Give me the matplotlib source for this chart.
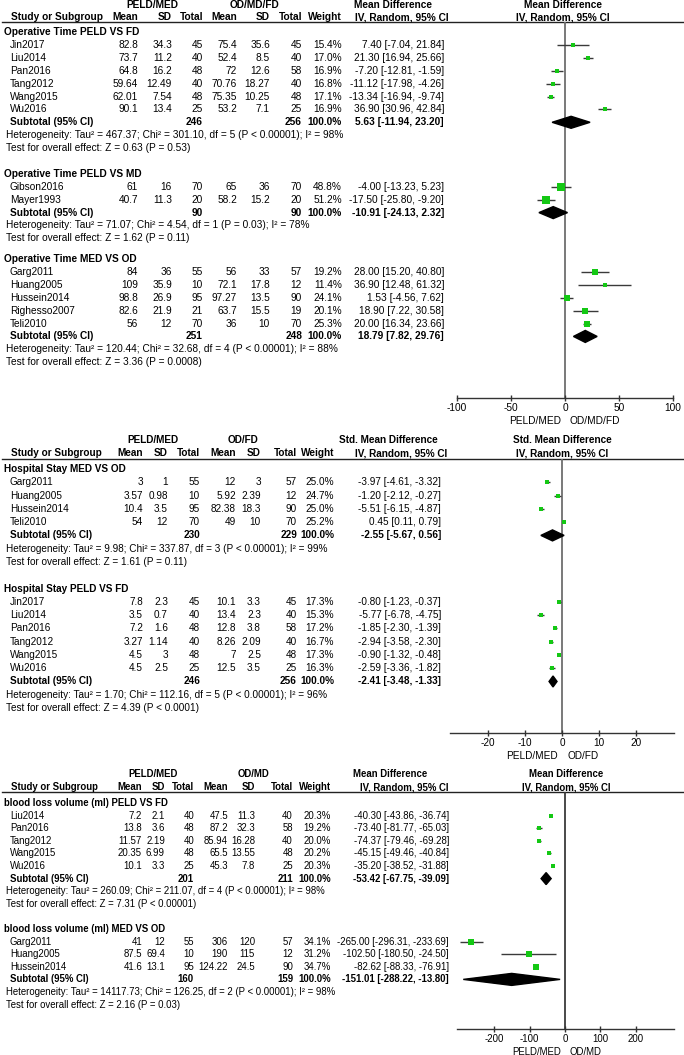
import matplotlib
matplotlib.use('Agg')
import matplotlib.pyplot as plt
from matplotlib.patches import Polygon

plt.rcParams['font.family'] = ['Liberation Sans', 'DejaVu Sans']

# ---------------- DATA ----------------
# Panel 1: Operative time (Mean Difference)
p1_sub_names = ['Operative Time PELD VS FD', 'Operative Time PELD VS MD', 'Operative Time MED VS OD']
p1_group = [0, 0, 0, 0, 0, 0, 1, 1, 2, 2, 2, 2, 2]
p1_study = ['Jin2017', 'Liu2014', 'Pan2016', 'Tang2012', 'Wang2015', 'Wu2016',
            'Gibson2016', 'Mayer1993',
            'Garg2011', 'Huang2005', 'Hussein2014', 'Righesso2007', 'Teli2010']
p1_mean1 = [82.8, 73.7, 64.8, 59.64, 62.01, 90.1, 61, 40.7, 84, 109, 98.8, 82.6, 56]
p1_sd1 = [34.3, 11.2, 16.2, 12.49, 7.54, 13.4, 16, 11.3, 36, 35.9, 26.9, 21.9, 12]
p1_n1 = [45, 40, 48, 40, 48, 25, 70, 20, 55, 10, 95, 21, 70]
p1_mean2 = [75.4, 52.4, 72, 70.76, 75.35, 53.2, 65, 58.2, 56, 72.1, 97.27, 63.7, 36]
p1_sd2 = [35.6, 8.5, 12.6, 18.27, 10.25, 7.1, 36, 15.2, 33, 17.8, 13.5, 15.5, 10]
p1_n2 = [45, 40, 58, 40, 48, 25, 70, 20, 57, 12, 90, 19, 70]
p1_weight = [15.4, 17.0, 16.9, 16.8, 17.1, 16.9, 48.8, 51.2, 19.2, 11.4, 24.1, 20.1, 25.3]
p1_est = [7.40, 21.30, -7.20, -11.12, -13.34, 36.90, -4.00, -17.50, 28.00, 36.90, 1.53, 18.90, 20.00]
p1_lo = [-7.04, 16.94, -12.81, -17.98, -16.94, 30.96, -13.23, -25.80, 15.20, 12.48, -4.56, 7.22, 16.34]
p1_hi = [21.84, 25.66, -1.59, -4.26, -9.74, 42.84, 5.23, -9.20, 40.80, 61.32, 7.62, 30.58, 23.66]
p1_sub_n1 = [246, 90, 251]
p1_sub_n2 = [256, 90, 248]
p1_sub_est = [5.63, -10.91, 18.79]
p1_sub_lo = [-11.94, -24.13, 7.82]
p1_sub_hi = [23.20, 2.32, 29.76]
p1_het = ['Tau\u00b2 = 467.37; Chi\u00b2 = 301.10, df = 5 (P < 0.00001); I\u00b2 = 98%',
          'Tau\u00b2 = 71.07; Chi\u00b2 = 4.54, df = 1 (P = 0.03); I\u00b2 = 78%',
          'Tau\u00b2 = 120.44; Chi\u00b2 = 32.68, df = 4 (P < 0.00001); I\u00b2 = 88%']
p1_test = ['Z = 0.63 (P = 0.53)', 'Z = 1.62 (P = 0.11)', 'Z = 3.36 (P = 0.0008)']
p1_ticks = [-100, -50, 0, 50, 100]

# Panel 2: Hospital stay (Std. Mean Difference)
p2_sub_names = ['Hospital Stay MED VS OD', 'Hospital Stay PELD VS FD']
p2_group = [0, 0, 0, 0, 1, 1, 1, 1, 1, 1]
p2_study = ['Garg2011', 'Huang2005', 'Hussein2014', 'Teli2010',
            'Jin2017', 'Liu2014', 'Pan2016', 'Tang2012', 'Wang2015', 'Wu2016']
p2_mean1 = [3, 3.57, 10.4, 54, 7.8, 3.5, 7.2, 3.27, 4.5, 4.5]
p2_sd1 = [1, 0.98, 3.5, 12, 2.3, 0.7, 1.6, 1.14, 3, 2.5]
p2_n1 = [55, 10, 95, 70, 45, 40, 48, 40, 48, 25]
p2_mean2 = [12, 5.92, 82.38, 49, 10.1, 13.4, 12.8, 8.26, 7, 12.5]
p2_sd2 = [3, 2.39, 18.3, 10, 3.3, 2.3, 3.8, 2.09, 2.5, 3.5]
p2_n2 = [57, 12, 90, 70, 45, 40, 58, 40, 48, 25]
p2_weight = [25.0, 24.7, 25.0, 25.2, 17.3, 15.3, 17.2, 16.7, 17.3, 16.3]
p2_est = [-3.97, -1.20, -5.51, 0.45, -0.80, -5.77, -1.85, -2.94, -0.90, -2.59]
p2_lo = [-4.61, -2.12, -6.15, 0.11, -1.23, -6.78, -2.30, -3.58, -1.32, -3.36]
p2_hi = [-3.32, -0.27, -4.87, 0.79, -0.37, -4.75, -1.39, -2.30, -0.48, -1.82]
p2_sub_n1 = [230, 246]
p2_sub_n2 = [229, 256]
p2_sub_est = [-2.55, -2.41]
p2_sub_lo = [-5.67, -3.48]
p2_sub_hi = [0.56, -1.33]
p2_het = ['Tau\u00b2 = 9.98; Chi\u00b2 = 337.87, df = 3 (P < 0.00001); I\u00b2 = 99%',
          'Tau\u00b2 = 1.70; Chi\u00b2 = 112.16, df = 5 (P < 0.00001); I\u00b2 = 96%']
p2_test = ['Z = 1.61 (P = 0.11)', 'Z = 4.39 (P < 0.0001)']
p2_ticks = [-20, -10, 0, 10, 20]

# Panel 3: Blood loss (Mean Difference)
p3_sub_names = ['blood loss volume (ml) PELD VS FD', 'blood loss volume (ml) MED VS OD']
p3_group = [0, 0, 0, 0, 0, 1, 1, 1]
p3_study = ['Liu2014', 'Pan2016', 'Tang2012', 'Wang2015', 'Wu2016',
            'Garg2011', 'Huang2005', 'Hussein2014']
p3_mean1 = [7.2, 13.8, 11.57, 20.35, 10.1, 41, 87.5, 41.6]
p3_sd1 = [2.1, 3.6, 2.19, 6.99, 3.3, 12, 69.4, 13.1]
p3_n1 = [40, 48, 40, 48, 25, 55, 10, 95]
p3_mean2 = [47.5, 87.2, 85.94, 65.5, 45.3, 306, 190, 124.22]
p3_sd2 = [11.3, 32.3, 16.28, 13.55, 7.8, 120, 115, 24.5]
p3_n2 = [40, 58, 40, 48, 25, 57, 12, 90]
p3_weight = [20.3, 19.2, 20.0, 20.2, 20.3, 34.1, 31.2, 34.7]
p3_est = [-40.30, -73.40, -74.37, -45.15, -35.20, -265.00, -102.50, -82.62]
p3_lo = [-43.86, -81.77, -79.46, -49.46, -38.52, -296.31, -180.50, -88.33]
p3_hi = [-36.74, -65.03, -69.28, -40.84, -31.88, -233.69, -24.50, -76.91]
p3_sub_n1 = [201, 160]
p3_sub_n2 = [211, 159]
p3_sub_est = [-53.42, -151.01]
p3_sub_lo = [-67.75, -288.22]
p3_sub_hi = [-39.09, -13.80]
p3_het = ['Tau\u00b2 = 260.09; Chi\u00b2 = 211.07, df = 4 (P < 0.00001); I\u00b2 = 98%',
          'Tau\u00b2 = 14117.73; Chi\u00b2 = 126.25, df = 2 (P < 0.00001); I\u00b2 = 98%']
p3_test = ['Z = 7.31 (P < 0.00001)', 'Z = 2.16 (P = 0.03)']
p3_ticks = [-200, -100, 0, 100, 200]

# ---------------- LAYOUT ----------------
W, H = 684, 1055
GREEN = '#14c814'
fig = plt.figure(figsize=(W / 100, H / 100), dpi=100)
tax = fig.add_axes([0, 0, 1, 1])
tax.set_xlim(0, W)
tax.set_ylim(H, 0)
tax.axis('off')


def fmt(v):
    return f'{v:g}'


def draw_panel(data, lay):
    fs = lay['fs']
    (sub_names, group, study, m1, s1, n1, m2, s2, n2, wt, est, lo, hi,
     sn1, sn2, sest, slo, shi, het, test, ticks) = data
    cols = lay['cols']
    tax.text(lay['gx'][0], lay['grp_y'], lay['glab'][0], ha='center', va='center', fontsize=fs, fontweight='bold')
    tax.text(lay['gx'][1], lay['grp_y'], lay['glab'][1], ha='center', va='center', fontsize=fs, fontweight='bold')
    tax.text(lay['ehx1'], lay['grp_y'], lay['eh'], ha='center', va='center', fontsize=fs, fontweight='bold')
    tax.text(lay['rhx'], lay['grp_y'], lay['eh'], ha='center', va='center', fontsize=fs, fontweight='bold')
    cy = lay['col_y']
    tax.text(11, cy, 'Study or Subgroup', ha='left', va='center', fontsize=fs, fontweight='bold')
    for x, lab in zip(cols, ['Mean', 'SD', 'Total', 'Mean', 'SD', 'Total', 'Weight']):
        tax.text(x, cy, lab, ha='right', va='center', fontsize=fs, fontweight='bold')
    tax.text(lay['ehx2'], cy, 'IV, Random, 95% CI', ha='center', va='center', fontsize=fs, fontweight='bold')
    tax.text(lay['rhx'], cy, 'IV, Random, 95% CI', ha='center', va='center', fontsize=fs, fontweight='bold')
    tax.plot([2, W], [lay['ul_y'], lay['ul_y']], color='#222222', lw=1.0)

    x0, x1, ytop, ybot = lay['x0'], lay['x1'], lay['ul_y'], lay['ybot']
    ax = fig.add_axes([x0 / W, 1 - ybot / H, (x1 - x0) / W, (ybot - ytop) / H])
    ax.patch.set_visible(False)
    ax.set_xlim(*lay['xlim'])
    ax.set_ylim(ybot, ytop)
    for s in ['left', 'right', 'top']:
        ax.spines[s].set_visible(False)
    ax.spines['bottom'].set_color('#333333')
    ax.spines['bottom'].set_linewidth(1.0)
    ax.set_yticks([])
    ax.set_xticks(ticks)
    ax.set_xticklabels([str(t) for t in ticks])
    ax.tick_params(axis='x', direction='inout', length=5, width=1.0, color='#333333',
                   labelsize=fs, pad=1.0)
    ax.axvline(0, color=lay['zc'], lw=1.3, zorder=1)

    y0, step = lay['row0'], lay['step']
    for g, gname in enumerate(sub_names):
        r = lay['starts'][g]
        y = y0 + r * step
        tax.text(4, y, gname, ha='left', va='center', fontsize=fs, fontweight='bold')
        r += 1
        for i in [k for k in range(len(study)) if group[k] == g]:
            y = y0 + r * step
            tax.text(10, y, study[i], ha='left', va='center', fontsize=fs)
            vals = [fmt(m1[i]), fmt(s1[i]), str(n1[i]), fmt(m2[i]), fmt(s2[i]), str(n2[i]),
                    f'{wt[i]:.1f}%']
            for x, v in zip(cols, vals):
                tax.text(x, y, v, ha='right', va='center', fontsize=fs)
            tax.text(lay['eff_r'], y, f'{est[i]:.2f} [{lo[i]:.2f}, {hi[i]:.2f}]',
                     ha='right', va='center', fontsize=fs)
            ax.hlines(y, lo[i], hi[i], color='#3a3a3a', lw=1.0, zorder=2)
            side = lay['sq'] * wt[i] ** 0.5
            ax.plot(est[i], y, 's', ms=side * 0.72, color=GREEN, mec=GREEN, mew=0, zorder=3)
            r += 1
        y = y0 + r * step
        tax.text(10, y, 'Subtotal (95% CI)', ha='left', va='center', fontsize=fs, fontweight='bold')
        tax.text(cols[2], y, str(sn1[g]), ha='right', va='center', fontsize=fs, fontweight='bold')
        tax.text(cols[5], y, str(sn2[g]), ha='right', va='center', fontsize=fs, fontweight='bold')
        tax.text(cols[6], y, '100.0%', ha='right', va='center', fontsize=fs, fontweight='bold')
        tax.text(lay['eff_r'], y, f'{sest[g]:.2f} [{slo[g]:.2f}, {shi[g]:.2f}]',
                 ha='right', va='center', fontsize=fs, fontweight='bold')
        h = lay['dh']
        ax.add_patch(Polygon([(slo[g], y), (sest[g], y - h), (shi[g], y), (sest[g], y + h)],
                             closed=True, color='black', zorder=4))
        r += 1
        y = y0 + r * step
        tax.text(6, y, 'Heterogeneity: ' + het[g], ha='left', va='center', fontsize=fs)
        r += 1
        y = y0 + r * step
        tax.text(6, y, 'Test for overall effect: ' + test[g], ha='left', va='center', fontsize=fs)

    xmin, xmax = lay['xlim']
    zpx = x0 + (0 - xmin) / (xmax - xmin) * (x1 - x0)
    tax.text(zpx - 4, ybot + 23, lay['glab'][0], ha='right', va='center', fontsize=fs)
    tax.text(zpx + 5, ybot + 23, lay['glab'][1], ha='left', va='center', fontsize=fs)


lay1 = dict(fs=7.25, grp_y=5, col_y=17, ul_y=22, row0=32, step=12.9, starts=[0, 11, 17.6],
            cols=[138, 172, 203, 237, 270, 302, 342], eff_r=444,
            gx=[152, 255], glab=['PELD/MED', 'OD/MD/FD'], eh='Mean Difference',
            ehx1=393, ehx2=402, rhx=563, x0=457, x1=673, ybot=398,
            xlim=(-100, 100), zc='#6e6e6e', sq=1.15, dh=6.0)
lay2 = dict(fs=7.2, grp_y=440, col_y=453, ul_y=459, row0=469, step=13.28, starts=[0, 9],
            cols=[143, 168, 200, 236, 261, 297, 334], eff_r=441,
            gx=[153, 243], glab=['PELD/MED', 'OD/FD'], eh='Std. Mean Difference',
            ehx1=388, ehx2=401, rhx=562, x0=450, x1=674, ybot=733,
            xlim=(-30.07, 30.07), zc='#6e6e6e', sq=0.95, dh=5.5)
lay3 = dict(fs=6.9, grp_y=774, col_y=787, ul_y=792, row0=803, step=12.6, starts=[0, 10],
            cols=[142, 165, 194, 228, 255, 293, 331], eff_r=449,
            gx=[153, 253], glab=['PELD/MED', 'OD/MD'], eh='Mean Difference',
            ehx1=390, ehx2=404, rhx=566, x0=457, x1=674, ybot=1029,
            xlim=(-306, 309), zc='#3a3a3a', sq=1.05, dh=6.0)

draw_panel((p1_sub_names, p1_group, p1_study, p1_mean1, p1_sd1, p1_n1, p1_mean2, p1_sd2, p1_n2,
            p1_weight, p1_est, p1_lo, p1_hi, p1_sub_n1, p1_sub_n2, p1_sub_est, p1_sub_lo,
            p1_sub_hi, p1_het, p1_test, p1_ticks), lay1)
draw_panel((p2_sub_names, p2_group, p2_study, p2_mean1, p2_sd1, p2_n1, p2_mean2, p2_sd2, p2_n2,
            p2_weight, p2_est, p2_lo, p2_hi, p2_sub_n1, p2_sub_n2, p2_sub_est, p2_sub_lo,
            p2_sub_hi, p2_het, p2_test, p2_ticks), lay2)
draw_panel((p3_sub_names, p3_group, p3_study, p3_mean1, p3_sd1, p3_n1, p3_mean2, p3_sd2, p3_n2,
            p3_weight, p3_est, p3_lo, p3_hi, p3_sub_n1, p3_sub_n2, p3_sub_est, p3_sub_lo,
            p3_sub_hi, p3_het, p3_test, p3_ticks), lay3)

fig.savefig('out.png', dpi=100)
